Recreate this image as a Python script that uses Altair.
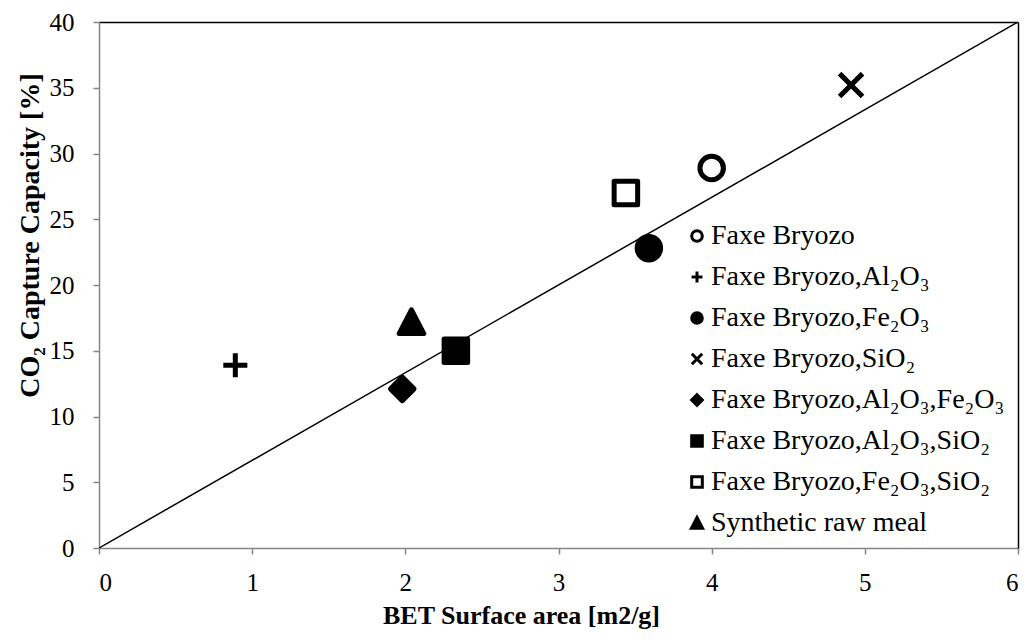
import altair as alt
import pandas as pd

# ---- data ----
series = [
    "Faxe Bryozo",
    "Faxe Bryozo,Al₂O₃",
    "Faxe Bryozo,Fe₂O₃",
    "Faxe Bryozo,SiO₂",
    "Faxe Bryozo,Al₂O₃,Fe₂O₃",
    "Faxe Bryozo,Al₂O₃,SiO₂",
    "Faxe Bryozo,Fe₂O₃,SiO₂",
    "Synthetic raw meal",
]
bet_area = [4.0, 0.89, 3.59, 4.91, 1.98, 2.33, 3.44, 2.04]
co2_capacity = [28.9, 13.9, 22.8, 35.2, 12.1, 15.0, 27.0, 17.2]

fit_x = [0, 6]
fit_y = [0, 40]

x_ticks = [0, 1, 2, 3, 4, 5, 6]
y_ticks = [0, 5, 10, 15, 20, 25, 30, 35, 40]

# ---- marker styles ----
ring = "M0.84,0A0.84,0.84 0 1,1 -0.84,0A0.84,0.84 0 1,1 0.84,0Z"
plus = "M-0.86,0L0.86,0M0,-0.86L0,0.86"
xmark = "M-0.82,-0.82L0.82,0.82M-0.82,0.82L0.82,-0.82"
diamond = "M0,-0.84L0.84,0L0,0.84L-0.84,0Z"
square = "M-0.84,-0.84L0.84,-0.84L0.84,0.84L-0.84,0.84Z"
triangle = "M0,-0.86L0.88,0.84L-0.88,0.84Z"
shapes = [ring, plus, ring, xmark, diamond, square, square, triangle]
fills = ["white", "black", "black", "black", "black", "black", "white", "black"]
strokes = ["black"] * 8

df = pd.DataFrame({"series": series, "bet": bet_area, "co2": co2_capacity})
fit = pd.DataFrame({"bet": fit_x, "co2": fit_y})

FONT = "Liberation Serif, Times New Roman, serif"
GRAY = "#868686"

xscale = alt.Scale(domain=[0, 6], nice=False, zero=True)
yscale = alt.Scale(domain=[0, 40], nice=False, zero=True)


def legend():
    return alt.Legend(title=None, orient="none", legendX=584, legendY=200,
                      symbolSize=160, symbolStrokeWidth=3,
                      labelFontSize=28, labelFont=FONT, labelColor="black", labelLimit=500,
                      labelOffset=0, rowPadding=13, padding=0)


points = alt.Chart(df).mark_point(
    filled=False, size=784, strokeWidth=5, opacity=1, strokeJoin="round",
).encode(
    x=alt.X("bet:Q", scale=xscale,
            axis=alt.Axis(values=x_ticks, title="BET Surface area [m2/g]", format="d",
                          domainColor=GRAY, domainWidth=1.5, tickColor=GRAY, tickSize=6,
                          tickWidth=1.5, labelPadding=16, grid=False,
                          labelFont=FONT, labelFontSize=25,
                          titleFont=FONT, titleFontSize=26,
                          titleX=422, titleY=67, titleBaseline="middle")),
    y=alt.Y("co2:Q", scale=yscale,
            axis=alt.Axis(values=y_ticks, title="CO₂ Capture Capacity [%]", format="d",
                          domainColor=GRAY, domainWidth=1.5, tickColor=GRAY, tickSize=6,
                          tickWidth=1.5, labelPadding=19, grid=False,
                          labelFont=FONT, labelFontSize=25,
                          titleFont=FONT, titleFontSize=28,
                          titleX=-69, titleY=213, titleBaseline="middle", titleAngle=270)),
    shape=alt.Shape("series:N", scale=alt.Scale(domain=series, range=shapes), legend=legend()),
    fill=alt.Fill("series:N", scale=alt.Scale(domain=series, range=fills), legend=legend()),
    stroke=alt.Stroke("series:N", scale=alt.Scale(domain=series, range=strokes), legend=legend()),
)

line = alt.Chart(fit).mark_line(color="black", strokeWidth=1.5, clip=True).encode(
    x=alt.X("bet:Q", scale=xscale,
            axis=alt.Axis(orient="top", labels=False, ticks=False, title=None,
                          domainColor="black", domainWidth=1.5, grid=False)),
    y=alt.Y("co2:Q", scale=yscale,
            axis=alt.Axis(orient="right", labels=False, ticks=False, title=None,
                          domainColor="black", domainWidth=1.5, grid=False)),
)

chart = alt.layer(line, points).resolve_axis(x="independent", y="independent").properties(
    width=919, height=526,
    autosize=alt.AutoSizeParams(type="none"),
    padding={"left": 99, "top": 22, "right": 9, "bottom": 92},
    background="white",
).configure_view(strokeWidth=0).configure_axis(
    labelFont=FONT, labelFontSize=25, labelColor="black",
    titleFont=FONT, titleFontSize=26, titleFontWeight="bold", titleColor="black",
)

chart.save("out.html", embed_options={"renderer": "svg", "actions": False})
